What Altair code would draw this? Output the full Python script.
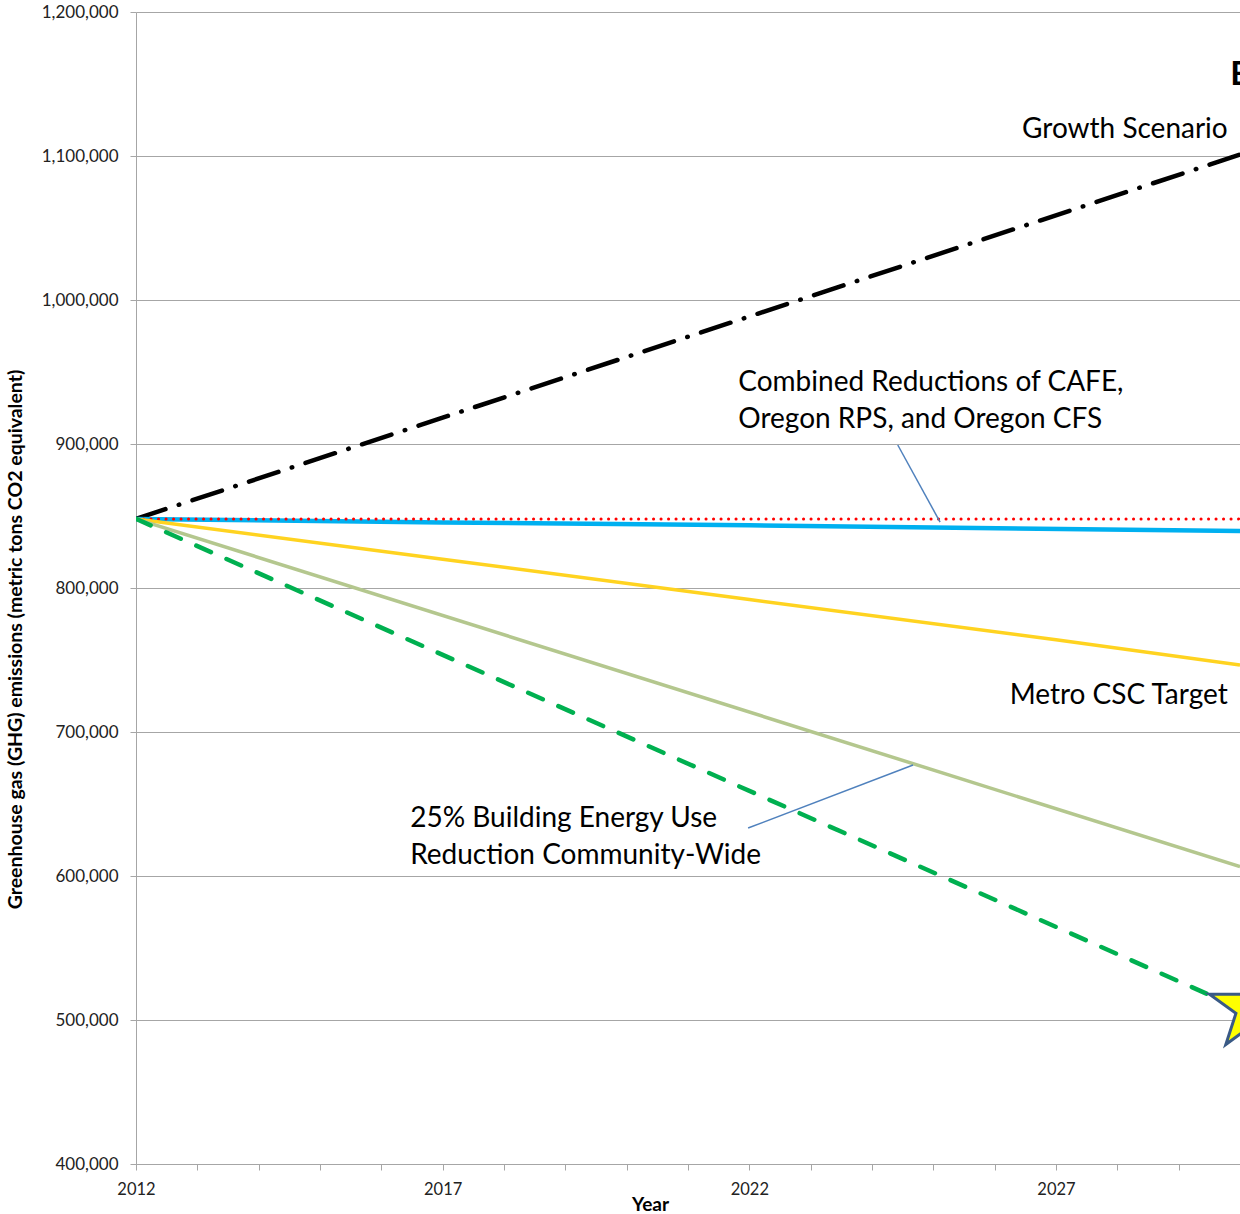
import altair as alt
import pandas as pd

# ---- data ----
years_growth = [2012, 2030]
growth = [848000, 1101000]

years_flat = [2012, 2030]
flat_red = [848000, 848000]

years_blue = [2012, 2017, 2022, 2025, 2030]
blue = [848000, 845500, 843500, 842000, 839600]

years_yellow = [2012, 2017, 2022, 2027, 2030]
yellow = [848000, 820000, 792000, 764000, 746500]

years_olive = [2012, 2030]
olive = [848000, 606500]

years_green = [2012, 2030]
green = [848000, 508000]

star_year = [2030.2]
star_value = [508300]

y_ticks = [400000, 500000, 600000, 700000, 800000, 900000, 1000000, 1100000, 1200000]
x_ticks = list(range(2012, 2031))

label_x = [2029.8, 2021.82, 2029.8, 2016.47]
label_y = [1112500, 936800, 719400, 634000]
label_text = [
    "Growth Scenario",
    "Combined Reductions of CAFE,\nOregon RPS, and Oregon CFS",
    "Metro CSC Target",
    "25% Building Energy Use\nReduction Community-Wide",
]
label_align = ["right", "left", "right", "left"]

leader_x = [2024.42, 2021.98]
leader_y = [899300, 633300]
leader_x2 = [2025.11, 2024.67]
leader_y2 = [845800, 677100]

FONT = "Lato"

# five-pointed star outline (unit size, point up)
STAR_PATH = ("M0,-1L0.2245,-0.309L0.951,-0.309L0.363,0.118L0.588,0.809L0,0.382"
             "L-0.588,0.809L-0.363,0.118L-0.951,-0.309L-0.2245,-0.309Z")

x_scale = alt.Scale(domain=[2012, 2030], nice=False, zero=False)
y_scale = alt.Scale(domain=[400000, 1200000], nice=False, zero=False)

X_AXIS = alt.Axis(
    orient="bottom",
    values=x_ticks,
    labelExpr="(datum.value - 2012) % 5 == 0 ? format(datum.value, 'd') : ''",
    title="Year",
    titleFont=FONT,
    titleFontSize=19,
    titleFontWeight="bold",
    titleColor="#000000",
    titleX=514,
    titleY=46,
    titleBaseline="alphabetic",
    labelFont=FONT,
    labelFontSize=16.5,
    labelColor="#222222",
    labelPadding=11,
    tickSize=6,
    tickColor="#A6A6A6",
    domainColor="#A6A6A6",
    grid=False,
    labelFlush=False,
    labelOverlap=False,
)
Y_AXIS = alt.Axis(
    orient="left",
    values=y_ticks,
    labelExpr="format(datum.value, ',')",
    title="Greenhouse gas (GHG) emissions (metric tons CO2 equivalent)",
    titleFont=FONT,
    titleFontSize=19.5,
    titleFontWeight="bold",
    titleColor="#000000",
    titleX=-121,
    titleY=627,
    titleAlign="center",
    titleBaseline="middle",
    labelFont=FONT,
    labelFontSize=17,
    labelColor="#222222",
    labelPadding=12,
    tickSize=6,
    tickColor="#A6A6A6",
    domainColor="#A6A6A6",
    grid=True,
    gridColor="#A6A6A6",
    gridWidth=1,
    labelFlush=False,
    labelOverlap=False,
)


def ex(field):
    return alt.X(field + ":Q", scale=x_scale, axis=X_AXIS)


def ey(field):
    return alt.Y(field + ":Q", scale=y_scale, axis=Y_AXIS)


def line_layer(xs, ys, color, width, dash=None, cap="butt"):
    df = pd.DataFrame({"year": xs, "value": ys})
    kw = dict(color=color, strokeWidth=width, strokeCap=cap, clip=True)
    if dash is not None:
        kw["strokeDash"] = dash
    return alt.Chart(df).mark_line(**kw).encode(x=ex("year"), y=ey("value"))


growth_l = line_layer(years_growth, growth, "#000000", 4.5, [31, 14, 0.5, 14], "round")
blue_l = line_layer(years_blue, blue, "#00B0F0", 4.5)
red_l = line_layer(years_flat, flat_red, "#FF0000", 3, [0.1, 7.4], "round")
yellow_l = line_layer(years_yellow, yellow, "#FFD320", 3.5)
olive_l = line_layer(years_olive, olive, "#B4C78E", 3.5)
green_l = line_layer(years_green, green, "#00B050", 4.5, [16, 17], "round")

star_df = pd.DataFrame({"year": star_year, "value": star_value})
star = alt.Chart(star_df).mark_point(
    shape=STAR_PATH, size=8100, filled=True, fill="#FFFF00", stroke="#3A5A86",
    strokeWidth=3, opacity=1, fillOpacity=1, strokeOpacity=1,
).encode(x=ex("year"), y=ey("value"))

leaders = pd.DataFrame({"lx": leader_x, "ly": leader_y, "lx2": leader_x2, "ly2": leader_y2})
leader_l = alt.Chart(leaders).mark_rule(color="#4F81BD", strokeWidth=1.5).encode(
    x=ex("lx"), y=ey("ly"), x2="lx2:Q", y2="ly2:Q",
)

text_layers = []
for xv, yv, tv, av in zip(label_x, label_y, label_text, label_align):
    df = pd.DataFrame({"tx": [xv], "ty": [yv], "tt": [tv]})
    text_layers.append(
        alt.Chart(df).mark_text(
            font=FONT, fontSize=28, align=av, baseline="alphabetic",
            lineBreak="\n", lineHeight=37, color="#000000",
        ).encode(x=ex("tx"), y=ey("ty"), text=alt.Text("tt:N"))
    )

title_df = pd.DataFrame({"tx": [2029.84], "ty": [1149300], "tt": ["E"]})
title_l = alt.Chart(title_df).mark_text(
    font=FONT, fontSize=33, fontWeight="bold", align="left", baseline="alphabetic",
    color="#000000",
).encode(x=ex("tx"), y=ey("ty"), text=alt.Text("tt:N"))

chart = alt.layer(
    growth_l, blue_l, red_l, yellow_l, olive_l, green_l, leader_l, star,
    *text_layers, title_l,
).properties(
    width=1104,
    height=1152,
    autosize=alt.AutoSizeParams(type="none"),
    padding={"left": 136, "top": 12, "right": 0, "bottom": 50},
    background="#FFFFFF",
).configure_view(stroke=None)

chart.save("out.html", embed_options={"renderer": "svg", "actions": False})
